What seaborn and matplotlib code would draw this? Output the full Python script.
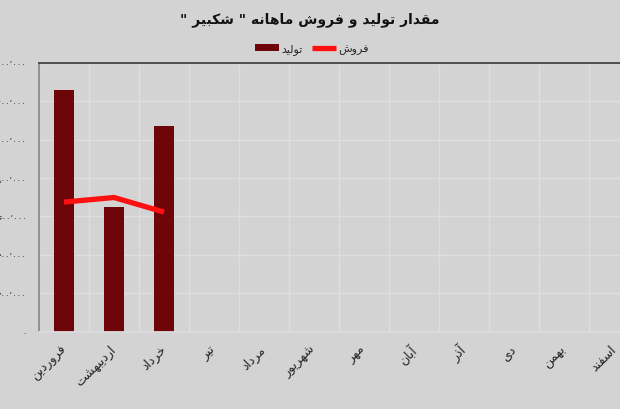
import numpy as np
import matplotlib
matplotlib.use("Agg")
import matplotlib.pyplot as plt
import seaborn as sns
from matplotlib.ticker import FixedLocator, FuncFormatter

# data
months = ["فروردین", "اردیبهشت", "خرداد", "تیر", "مرداد", "شهریور",
          "مهر", "آبان", "آذر", "دی", "بهمن", "اسفند"]
production = [1258000, 652000, 1070000]
sales = [675000, 699000, 623000]
title_text = 'مقدار تولید و فروش ماهانه " شکبیر "'
label_prod = "تولید"
label_sales = "فروش"
y_ticks = [0, 200000, 400000, 600000, 800000, 1000000, 1200000, 1400000]

# matplotlib has no arabic shaping, so pick presentation forms by hand
# (isolated, final, initial, medial)
FORMS = {
    "ا": ("\uFE8D", "\uFE8E", None, None),
    "آ": ("\uFE81", "\uFE82", None, None),
    "ب": ("\uFE8F", "\uFE90", "\uFE91", "\uFE92"),
    "ت": ("\uFE95", "\uFE96", "\uFE97", "\uFE98"),
    "خ": ("\uFEA5", "\uFEA6", "\uFEA7", "\uFEA8"),
    "د": ("\uFEA9", "\uFEAA", None, None),
    "ذ": ("\uFEAB", "\uFEAC", None, None),
    "ر": ("\uFEAD", "\uFEAE", None, None),
    "س": ("\uFEB1", "\uFEB2", "\uFEB3", "\uFEB4"),
    "ش": ("\uFEB5", "\uFEB6", "\uFEB7", "\uFEB8"),
    "ف": ("\uFED1", "\uFED2", "\uFED3", "\uFED4"),
    "ق": ("\uFED5", "\uFED6", "\uFED7", "\uFED8"),
    "ک": ("\uFB8E", "\uFB8F", "\uFB90", "\uFB91"),
    "ل": ("\uFEDD", "\uFEDE", "\uFEDF", "\uFEE0"),
    "م": ("\uFEE1", "\uFEE2", "\uFEE3", "\uFEE4"),
    "ن": ("\uFEE5", "\uFEE6", "\uFEE7", "\uFEE8"),
    "ه": ("\uFEE9", "\uFEEA", "\uFEEB", "\uFEEC"),
    "و": ("\uFEED", "\uFEEE", None, None),
    "ی": ("\uFBFC", "\uFBFD", "\uFBFE", "\uFBFF"),
}


def rtl(s):
    out = []
    for i, c in enumerate(s):
        if c not in FORMS:
            out.append(c)
            continue
        p = s[i - 1] if i > 0 else ""
        n = s[i + 1] if i + 1 < len(s) else ""
        join_prev = p in FORMS and FORMS[p][2] is not None
        join_next = n in FORMS and FORMS[c][2] is not None
        iso, fin, ini, med = FORMS[c]
        if join_prev and join_next:
            out.append(med)
        elif join_prev:
            out.append(fin)
        elif join_next:
            out.append(ini)
        else:
            out.append(iso)
    return "".join(out)[::-1]


def fa_num(v, pos=None):
    s = "{:,}".format(int(round(v))).replace(",", "\u066C")
    return s.translate(str.maketrans("0123456789", "۰۱۲۳۴۵۶۷۸۹"))


bg = "#d3d3d3"
sns.set_style("white", {"axes.facecolor": bg, "figure.facecolor": bg})
plt.rcParams["font.family"] = ["DejaVu Sans"]

fig = plt.figure(figsize=(6.2, 4.1), dpi=100)
ax = fig.add_axes([39 / 620, 77.4 / 410, 600 / 620, 268.6 / 410])

cats = [rtl(m) for m in months]

sns.barplot(x=cats[:len(production)], y=production, order=cats,
            color="#6e0609", saturation=1, width=0.4, linewidth=0,
            edgecolor="none", label=rtl(label_prod), ax=ax, zorder=2)
sns.pointplot(x=cats[:len(sales)], y=sales, order=cats, color="#ff1010",
              markers="", linewidth=3.8, errorbar=None,
              label=rtl(label_sales), ax=ax)
for ln in ax.lines:
    ln.set_solid_capstyle("butt")
    ln.set_solid_joinstyle("miter")
    ln.set_zorder(4)

ax.set_xlim(-0.5, len(months) - 0.5)
ax.set_ylim(0, 1400000)
ax.yaxis.set_major_locator(FixedLocator(y_ticks))
ax.yaxis.set_major_formatter(FuncFormatter(fa_num))
ax.set_xticks(range(len(months)))
ax.set_xticklabels(cats, rotation=45, ha="right", va="center",
                   rotation_mode="anchor", fontsize=9)
ax.xaxis.set_minor_locator(FixedLocator(np.arange(len(months) + 1) - 0.5))
ax.tick_params(axis="y", length=0, pad=9, labelsize=6)
ax.tick_params(axis="x", which="both", length=0, pad=11)
ax.set_xlabel("")
ax.set_ylabel("")

ax.grid(axis="y", color="#dedede", linewidth=1, zorder=0)
ax.grid(axis="x", which="minor", color="#dedede", linewidth=1, zorder=0)
ax.set_axisbelow(True)

for side, c in [("top", "#444444"), ("left", "#8c8c8c"),
                ("bottom", "#dcdcdc"), ("right", "#444444")]:
    ax.spines[side].set_visible(True)
    ax.spines[side].set_color(c)
    ax.spines[side].set_linewidth(1.3)

fig.text(0.5, 1 - 20 / 410, rtl(title_text), ha="center", va="center",
         fontsize=10, fontweight="bold", color="#111111")

# bar first, then line, as in the reference legend
handles, labels = ax.get_legend_handles_labels()
order = [labels.index(rtl(label_prod)), labels.index(rtl(label_sales))]
ax.legend([handles[i] for i in order], [labels[i] for i in order],
          loc="center", bbox_to_anchor=(0.503, 1 - 50 / 410),
          bbox_transform=fig.transFigure, ncol=2, frameon=False,
          fontsize=8, handlelength=2.2, handleheight=0.5,
          handletextpad=0.2, columnspacing=0.8)

fig.savefig("out.png", dpi=100, facecolor=bg)
